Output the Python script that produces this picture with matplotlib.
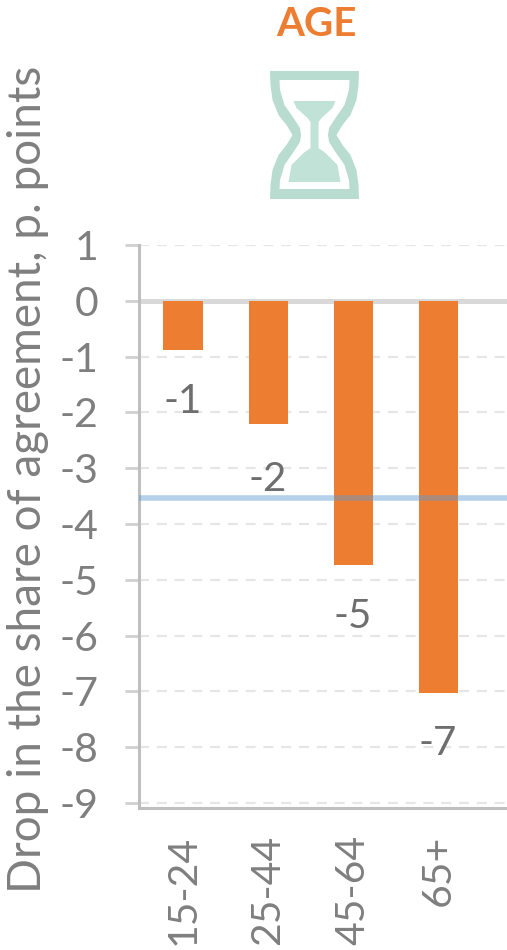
import matplotlib
matplotlib.use("Agg")
import matplotlib.pyplot as plt
from matplotlib.patches import Polygon
from matplotlib.transforms import Affine2D

# Drop in agreement by age group, percentage points
age_groups = ["15-24", "25-44", "45-64", "65+"]
drop_values = [-0.88, -2.2, -4.73, -7.03]
overall_drop = -3.53
y_ticks = [1, 0, -1, -2, -3, -4, -5, -6, -7, -8, -9]

W, H = 507, 950
ORANGE = "#ed7d31"
GREY_TEXT = "#7f7f7f"
AXIS_GREY = "#bfbfbf"

plt.rcParams["font.family"] = ["Lato", "DejaVu Sans"]
plt.rcParams["axes.unicode_minus"] = False

fig = plt.figure(figsize=(W / 100, H / 100), dpi=100, facecolor="white")
ax = fig.add_axes([139 / W, 1 - 808 / H, (W - 139) / W, (808 - 245) / H])

positions = list(range(len(age_groups)))
ax.bar(positions, drop_values, width=0.46, color=ORANGE, zorder=3)
ax.set_xlim(-0.518, 3.81)
ax.set_ylim(-9.09, 1)

# Light dashed grid, with a heavier band at zero and the overall average on top
ax.yaxis.grid(True, color="#e6e6e6", lw=1.6, ls=(0, (4.5, 3.5)), zorder=1)
ax.set_axisbelow(True)
ax.axhline(0, color="#d9d9d9", lw=3.6, zorder=2)
ax.axhline(overall_drop, color="#5b9bd5", lw=4.0, alpha=0.45, zorder=4)

for s in ("top", "right"):
    ax.spines[s].set_visible(False)
for s in ("left", "bottom"):
    ax.spines[s].set_color(AXIS_GREY)
    ax.spines[s].set_linewidth(2.2)

ax.set_yticks(y_ticks)
ax.set_yticklabels([str(t) for t in y_ticks], fontsize=29.5, color=GREY_TEXT)
ax.tick_params(axis="y", length=10, width=2.0, color="#d0d0d0", pad=19)
ax.set_xticks(positions)
ax.set_xticklabels(age_groups, rotation=90, fontsize=29.5, color=GREY_TEXT)
ax.tick_params(axis="x", length=0, pad=19)

# Rounded value beneath each bar
label_drops = [-37.5, -40, -37.5, -36.5]
for x, v, dy in zip(positions, drop_values, label_drops):
    ax.annotate(str(round(v)), (x, v), xytext=(0, dy), textcoords="offset points",
                ha="center", va="center", fontsize=29, color="#6e6e6e", zorder=5)

fig.text(28 / W, 1 - 479 / H, "Drop in the share of agreement, p. points",
         rotation=90, ha="center", va="center", fontsize=33, color=GREY_TEXT)
fig.text(316 / W, 1 - 25 / H, "AGE", ha="center", va="center", fontsize=29,
         fontweight="bold", color=ORANGE)

# Hourglass icon, laid out in pixel units from the top-left corner
to_px = Affine2D().scale(1 / W, -1 / H).translate(0, 1) + fig.transFigure
cx = 314.5


def mirrored(half_outline):
    left = [(cx - w, y) for y, w in half_outline]
    right = [(cx + w, y) for y, w in reversed(half_outline)]
    return left + right


frame_outer = [(71, 44.5), (85, 44), (100, 42), (115, 36), (125, 28), (135, 22),
               (145, 28), (155, 36), (170, 42), (185, 44), (199, 44.5)]
frame_inner = [(80, 35), (90, 34.5), (105, 30), (118, 21), (128, 14.5), (135, 13.5),
               (142, 14.5), (152, 21), (165, 30), (180, 34.5), (189, 35)]
sand = [(101, 21), (108, 18), (118, 7), (122, 4), (148, 4), (153, 11),
        (165, 23), (182, 26)]

fig.add_artist(Polygon(mirrored(frame_outer), closed=True, fc="#b8dccf", ec="none", transform=to_px))
fig.add_artist(Polygon(mirrored(frame_inner), closed=True, fc="white", ec="none", transform=to_px))
fig.add_artist(Polygon(mirrored(sand), closed=True, fc="#c1e2d6", ec="none", transform=to_px))

fig.savefig("out.png", dpi=100, facecolor="white")
